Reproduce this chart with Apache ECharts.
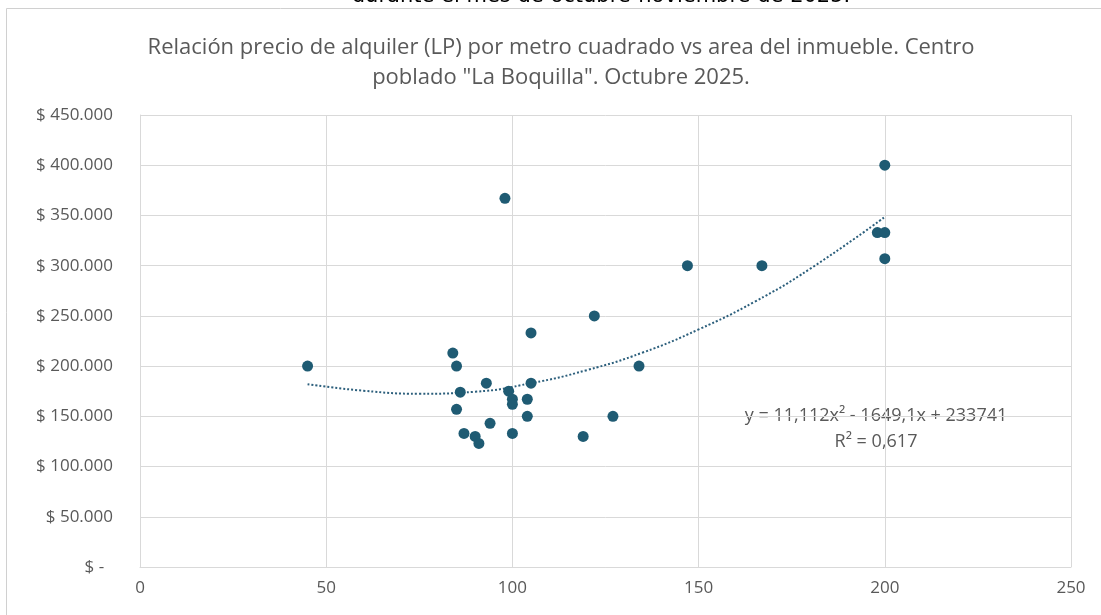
<!DOCTYPE html>
<html>
<head>
<meta charset="utf-8">
<script src="https://cdn.jsdelivr.net/npm/echarts@6/dist/echarts.min.js"></script>
<style>
    html, body { margin: 0; padding: 0; background: #fff; }
    #chart { width: 1101px; height: 615px; }
</style>
</head>
<body>
<div id="chart"></div>
<script>
// area del inmueble (m2) y precio de alquiler por m2
var areaValues = [45, 84, 85, 86, 85, 87, 90, 91, 93, 94, 98, 99, 100, 100, 100,
    104, 104, 105, 105, 119, 122, 127, 134, 147, 167, 198, 200, 200, 200];
var priceValues = [200000, 213000, 200000, 174000, 157000, 133000, 130000, 123000, 183000, 143000, 367000, 175000, 167000, 162000, 133000,
    167000, 150000, 233000, 183000, 130000, 250000, 150000, 200000, 300000, 300000, 333000, 333000, 307000, 400000];

// linea de tendencia (polinomica)
var trendX = [45, 60, 75, 90, 105, 120, 135, 150, 165, 180, 200];
var trendY = [182000, 175500, 172500, 174500, 183000, 196000, 213500, 236500, 264000, 297000, 348500];

var xTicks = [0, 50, 100, 150, 200, 250];
var yTickLabels = ['$ -  ', '$ 50.000', '$ 100.000', '$ 150.000', '$ 200.000', '$ 250.000',
    '$ 300.000', '$ 350.000', '$ 400.000', '$ 450.000'];

var titleText = 'Relación precio de alquiler (LP) por metro cuadrado vs area del inmueble. Centro\npoblado "La Boquilla". Octubre 2025.';
var eqText = 'y = 11,112x² - 1649,1x + 233741\nR² = 0,617';

var font = 'Open Sans';
var textColor = '#595959';

var points = areaValues.map(function (a, i) { return [a, priceValues[i]]; });
var trend = trendX.map(function (a, i) { return [a, trendY[i]]; });

var chart = echarts.init(document.getElementById('chart'));

var option = {
    animation: false,
    backgroundColor: '#fff',
    grid: {
        left: 140,
        right: 30,
        top: 115,
        bottom: 48
    },
    xAxis: {
        type: 'value',
        min: 0,
        max: 250,
        interval: 50,
        axisLine: { show: true, lineStyle: { color: '#d9d9d9' } },
        axisTick: { show: false },
        splitLine: { show: true, lineStyle: { color: '#d9d9d9' } },
        axisLabel: {
            color: textColor,
            fontFamily: font,
            fontSize: 17,
            margin: 13,
            formatter: function (v) { return xTicks.indexOf(v) >= 0 ? String(v) : ''; }
        }
    },
    yAxis: {
        type: 'value',
        min: 0,
        max: 450000,
        interval: 50000,
        axisLine: { show: true, lineStyle: { color: '#d9d9d9' } },
        axisTick: { show: false },
        splitLine: { show: true, lineStyle: { color: '#d9d9d9' } },
        axisLabel: {
            color: textColor,
            fontFamily: font,
            fontSize: 17,
            margin: 27,
            formatter: function (v) { return yTickLabels[Math.round(v / 50000)]; }
        }
    },
    graphic: [
        {
            type: 'rect',
            shape: { x: 6.5, y: 8.5, width: 1110, height: 620 },
            style: { fill: 'none', stroke: '#d0d0d0', lineWidth: 1 },
            silent: true
        },
        {
            type: 'text',
            style: {
                text: 'durante el mes de octubre-noviembre de 2025.',
                x: 601,
                y: -14,
                textAlign: 'center',
                font: '21px "DejaVu Sans"',
                fill: '#000'
            }
        },
        {
            type: 'text',
            style: {
                text: titleText,
                x: 561,
                y: 33,
                textAlign: 'center',
                textVerticalAlign: 'top',
                font: '22px "' + font + '"',
                lineHeight: 30,
                fill: textColor
            }
        },
        {
            type: 'text',
            style: {
                text: eqText,
                x: 876,
                y: 403,
                textAlign: 'center',
                font: '18px "' + font + '"',
                lineHeight: 26,
                fill: textColor
            }
        }
    ],
    series: [
        {
            name: 'tendencia',
            type: 'line',
            data: trend,
            smooth: true,
            symbol: 'none',
            lineStyle: { type: 'dotted', width: 2, color: '#2c5f7c' },
            z: 2
        },
        {
            name: 'precio',
            type: 'scatter',
            data: points,
            symbolSize: 11,
            itemStyle: { color: '#1f5b73', opacity: 1 },
            z: 3
        }
    ]
};

chart.setOption(option);
</script>
</body>
</html>
